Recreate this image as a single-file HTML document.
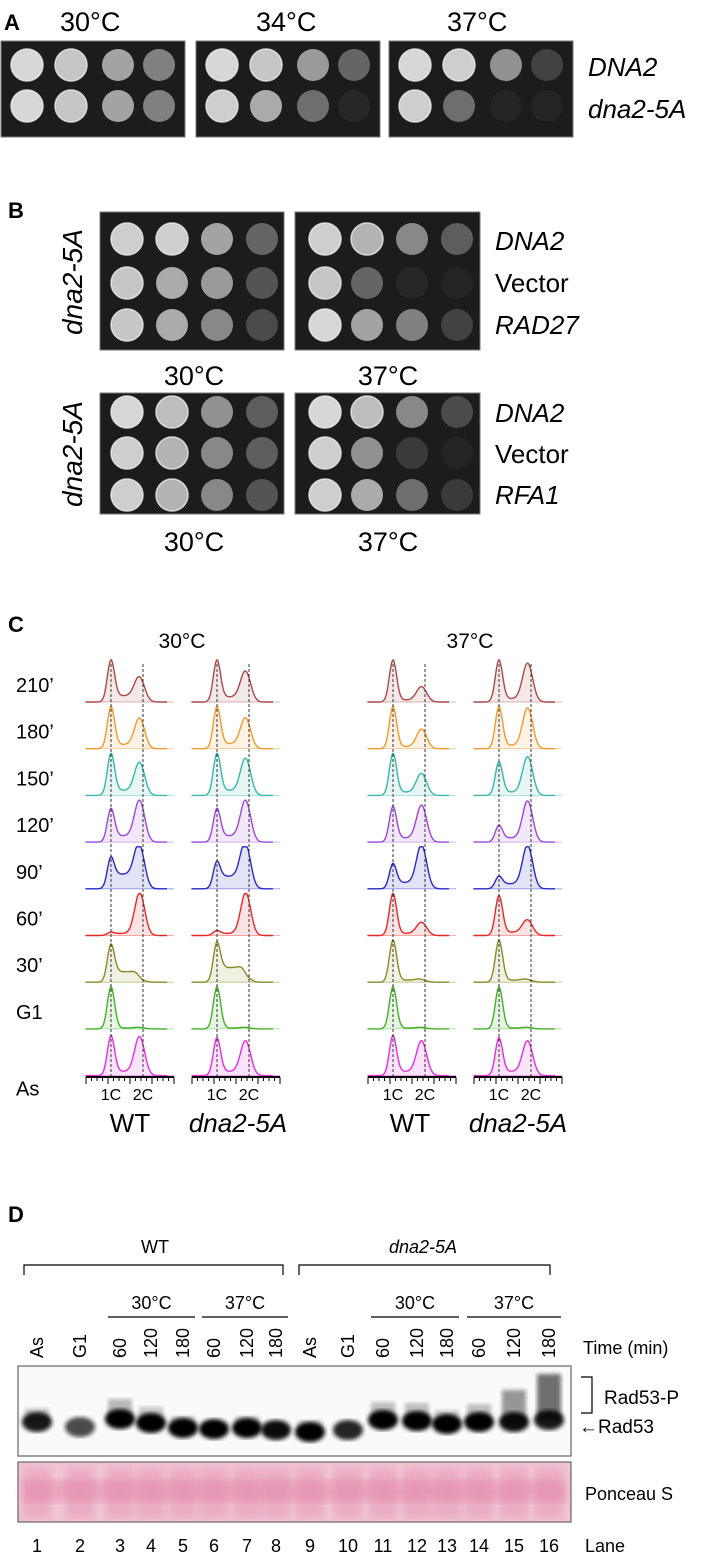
<!DOCTYPE html>
<html><head><meta charset="utf-8">
<style>
html,body{margin:0;padding:0;background:#fff;}
svg{display:block;}
text{font-family:"Liberation Sans",Arial,sans-serif;}
</style></head>
<body>
<svg id="fig" width="709" height="1553" viewBox="0 0 709 1553" xmlns="http://www.w3.org/2000/svg">
<defs>
<filter id="blur2"><feGaussianBlur stdDeviation="2.2"/></filter>
<filter id="blur4"><feGaussianBlur stdDeviation="4"/></filter>
</defs>
<!-- Panel A text -->
<text x="4" y="30" font-size="22" font-weight="bold">A</text>
<text x="60" y="31" font-size="27">30°C</text>
<text x="256" y="31" font-size="27">34°C</text>
<text x="447" y="31" font-size="27">37°C</text>
<text x="588" y="76" font-size="26" font-style="italic">DNA2</text>
<text x="588" y="118" font-size="26" font-style="italic">dna2-5A</text>
<!-- Panel B text -->
<text x="8" y="218" font-size="22" font-weight="bold">B</text>
<text transform="translate(82,282) rotate(-90)" text-anchor="middle" font-size="28" font-style="italic">dna2-5A</text>
<text transform="translate(82,454) rotate(-90)" text-anchor="middle" font-size="28" font-style="italic">dna2-5A</text>
<text x="495" y="250" font-size="26" font-style="italic">DNA2</text>
<text x="495" y="292" font-size="26">Vector</text>
<text x="495" y="334" font-size="26" font-style="italic">RAD27</text>
<text x="495" y="422" font-size="26" font-style="italic">DNA2</text>
<text x="495" y="463" font-size="26">Vector</text>
<text x="495" y="504" font-size="26" font-style="italic">RFA1</text>
<text x="194" y="385" font-size="27" text-anchor="middle">30°C</text>
<text x="388" y="385" font-size="27" text-anchor="middle">37°C</text>
<text x="194" y="551" font-size="27" text-anchor="middle">30°C</text>
<text x="388" y="551" font-size="27" text-anchor="middle">37°C</text>
<!-- Panel C text -->
<text x="8" y="632" font-size="22" font-weight="bold">C</text>
<text x="182" y="648" font-size="21" text-anchor="middle">30°C</text>
<text x="470" y="648" font-size="21" text-anchor="middle">37°C</text>
<g id="cgroup"></g>
<text x="130" y="1132" font-size="26" text-anchor="middle">WT</text>
<text x="238" y="1132" font-size="26" text-anchor="middle" font-style="italic">dna2-5A</text>
<text x="410" y="1132" font-size="26" text-anchor="middle">WT</text>
<text x="518" y="1132" font-size="26" text-anchor="middle" font-style="italic">dna2-5A</text>
<!-- Panel D text -->
<text x="8" y="1222" font-size="22" font-weight="bold">D</text>
<text x="155" y="1253" font-size="18" text-anchor="middle">WT</text>
<text x="423" y="1253" font-size="18" text-anchor="middle" font-style="italic">dna2-5A</text>
<path d="M24,1275 V1265 H283 V1275 M299,1275 V1265 H550 V1275" fill="none" stroke="#000" stroke-width="1.2"/>
<g id="dgroup"></g>
<text x="583" y="1354" font-size="18">Time (min)</text>
<path d="M581,1377 H592 V1413 H581" fill="none" stroke="#000" stroke-width="1.2"/>
<text x="604" y="1404" font-size="19">Rad53-P</text>
<text x="579" y="1433" font-size="19">←Rad53</text>
<text x="585" y="1500" font-size="18">Ponceau S</text>
<text x="585" y="1552" font-size="18">Lane</text>
</svg>
<script>
const NS='http://www.w3.org/2000/svg';
const fig=document.getElementById('fig');
function mk(tag,attrs,parent){const e=document.createElementNS(NS,tag);for(const k in attrs)e.setAttribute(k,attrs[k]);(parent||fig).appendChild(e);return e;}

// ---------- Panel A / B spot data (growth intensity 0-1) ----------
const aPlates=[[ [1,0.9,0.7,0.5],[1,0.9,0.7,0.5] ],
               [ [1,0.9,0.65,0.35],[0.95,0.75,0.4,0.05] ],
               [ [1,0.95,0.6,0.15],[0.95,0.4,0.03,0.02] ]];
const bPlates=[[ [0.95,0.95,0.7,0.35],[0.9,0.75,0.65,0.25],[0.9,0.75,0.55,0.2] ],
               [ [0.95,0.8,0.55,0.3],[0.9,0.35,0.05,0.02],[1,0.7,0.5,0.15] ],
               [ [1,0.85,0.6,0.3],[0.95,0.8,0.55,0.3],[0.95,0.8,0.55,0.25] ],
               [ [1,0.85,0.55,0.2],[0.95,0.6,0.1,0.02],[0.95,0.75,0.4,0.1] ]];
function plate(x,y,w,h,rows,rowYs,colOff,name){
  const g=mk('g',{});
  
  
  const r=mk('rect',{x:x,y:y,width:w,height:h,fill:'#1c1c1c',stroke:'#777','stroke-width':1},g);
  
  
  rows.forEach((row,ri)=>{
    row.forEach((v,ci)=>{
      const cx=x+colOff[ci], cy=rowYs[ri];
      const gray=Math.round(40+v*175);
      const c=mk('circle',{cx:cx,cy:cy,r:16,fill:'rgb('+gray+','+gray+','+gray+')',opacity:v<0.1?0.5:1},g);
      
      
      if(v>0.75){mk('circle',{cx:cx,cy:cy,r:16,fill:'none',stroke:'#eee','stroke-width':1.5,opacity:0.8},g);}
    });
  });
}
const colA=[26,70,117,158];
plate(1,41,184,96,aPlates[0],[65,106],colA,'plate-a-30');
plate(196,41,184,96,aPlates[1],[65,106],colA,'plate-a-34');
plate(389,41,184,96,aPlates[2],[65,106],colA,'plate-a-37');
const colB=[27,72,117,162];
plate(100,212,184,138,bPlates[0],[239,283,325],colB,'plate-b-rad27-30');
plate(295,212,185,138,bPlates[1],[239,283,325],[30,72,117,162],'plate-b-rad27-37');
plate(100,393,184,121,bPlates[2],[412,453,495],colB,'plate-b-rfa1-30');
plate(295,393,185,121,bPlates[3],[412,453,495],[30,72,117,162],'plate-b-rfa1-37');

// ---------- Panel C data ----------
const cRows=["210’","180’","150’","120’","90’","60’","30’","G1","As"];
const cColors=['#a84a4a','#f09a30','#38b8a8','#9a48e0','#2a2ac8','#e42828','#8a8a28','#44b028','#e030e0'];
// [G1 peak height, G2 peak height, S-phase level] per row
const wt30=[[1,0.55,0.15],[1,0.7,0.1],[1,0.75,0.12],[0.8,0.95,0.15],[0.75,0.95,0.35],[0.08,1,0.05],[0.9,0.05,0.25],[1,0.03,0.02],[0.95,0.9,0.1]];
const dna30=[[1,0.7,0.12],[1,0.7,0.12],[1,0.85,0.12],[0.8,0.95,0.15],[0.65,1,0.3],[0.12,1,0.05],[0.95,0.1,0.35],[1,0.03,0.02],[0.9,0.8,0.1]];
const wt37=[[1,0.35,0.05],[1,0.45,0.05],[1,0.5,0.08],[0.85,0.85,0.1],[0.6,1,0.15],[1,0.3,0.05],[1,0.05,0.05],[1,0.03,0.02],[0.95,0.8,0.1]];
const dna37=[[1,0.9,0.08],[1,0.95,0.08],[0.8,0.9,0.08],[0.4,0.95,0.1],[0.3,1,0.12],[0.95,0.35,0.08],[1,0.05,0.05],[1,0.03,0.02],[0.9,0.8,0.1]];
const cPanels=[{x0:86,d:wt30,n:'wt-30'},{x0:192,d:dna30,n:'dna2-5a-30'},{x0:368,d:wt37,n:'wt-37'},{x0:474,d:dna37,n:'dna2-5a-37'}];
const cg=document.getElementById('cgroup');
const baseY0=702, rowStep=46.7, colW=88, hMax=42;
function xScale(x0,dna){return x0+25+(dna-1)*32;}  // dna content 1C..2C
cRows.forEach((lab,i)=>{
  const t=mk('text',{x:16,y:baseY0+i*rowStep-(i==8?-20:10),'font-size':20},fig);
  t.textContent=lab;
  
  
});
cPanels.forEach(p=>{
  p.d.forEach((v,i)=>{
    const by=baseY0+i*rowStep;
    let pts=[];
    for(let k=0;k<=100;k++){
      const dna=0.2+k*(2.75-0.2)/100;
      const g1=v[0]*Math.exp(-Math.pow((dna-1)/0.16,2));
      const g2=v[1]*Math.exp(-Math.pow((dna-1.9)/0.22,2));
      const s=v[2]*(1/(1+Math.exp(-(dna-1.15)/0.05)))*(1/(1+Math.exp((dna-1.85)/0.06)));
      const y=by-hMax*Math.min(1,g1+g2+s);
      pts.push([xScale(p.x0,dna),y]);
    }
    const line=pts.map((q,j)=>(j?'L':'M')+q[0].toFixed(1)+','+q[1].toFixed(1)).join('');
    const area=mk('path',{d:line+'L'+pts[100][0].toFixed(1)+','+by+'L'+pts[0][0].toFixed(1)+','+by+'Z',fill:cColors[i],'fill-opacity':0.13},cg);
    
    
    const ln=mk('path',{d:line,fill:'none',stroke:cColors[i],'stroke-width':1.4},cg);
    
    
    mk('line',{x1:p.x0,x2:p.x0+colW,y1:by,y2:by,stroke:cColors[i],'stroke-width':0.8,opacity:0.5},cg);
  });
  [1,2].forEach(dna=>{
    const gx=xScale(p.x0,dna);
    const dl=mk('line',{x1:gx,x2:gx,y1:baseY0-38,y2:1077,stroke:'#333','stroke-width':1,'stroke-dasharray':'3,2'},cg);
    
    
  });
  const ax=mk('line',{x1:p.x0,x2:p.x0+colW,y1:1077,y2:1077,stroke:'#000','stroke-width':2},cg);
  
  
  for(let k=0;k<=16;k++){
    const tx=p.x0+k*colW/16;
    mk('line',{x1:tx,x2:tx,y1:1077,y2:k%4==0?1084:1081,stroke:'#000','stroke-width':1},cg);
  }
  ['1C','2C'].forEach((l,j)=>{
    const t=mk('text',{x:xScale(p.x0,j+1),y:1100,'font-size':16,'text-anchor':'middle'},cg);
    t.textContent=l;
    
    
  });
});

// ---------- Panel D data ----------
const laneLabels=['As','G1','60','120','180','60','120','180','As','G1','60','120','180','60','120','180'];
const laneNums=['1','2','3','4','5','6','7','8','9','10','11','12','13','14','15','16'];
const laneX=[37,80,120,151,183,214,247,276,310,348,383,417,447,479,514,549];
const bandY=[1422,1427,1419,1423,1428,1429,1428,1430,1432,1430,1420,1421,1424,1422,1422,1420];
const bandI=[0.9,0.7,1,1,1,1,1,0.95,1,0.85,1,1,1,1,0.95,0.9];
const smear=[0.1,0,0.25,0.15,0.05,0,0.05,0,0.05,0,0.2,0.2,0.1,0.2,0.55,0.9];
const dg=document.getElementById('dgroup');
const gel=mk('rect',{x:18,y:1366,width:553,height:90,fill:'#fafafa',stroke:'#666','stroke-width':1.2},dg);


const pon=mk('rect',{x:18,y:1462,width:553,height:60,fill:'#f0c4d2',stroke:'#666','stroke-width':1.2},dg);


mk('rect',{x:22,y:1480,width:545,height:22,fill:'#e690b0',opacity:0.6,filter:'url(#blur4)'},dg);
laneX.forEach((x,i)=>{
  const lt=mk('text',{transform:'translate('+(x+6)+',1358) rotate(-90)','font-size':18},dg);
  lt.textContent=laneLabels[i];
  
  
  const nt=mk('text',{x:x,y:1552,'font-size':18,'text-anchor':'middle'},dg);
  nt.textContent=laneNums[i];
  
  
  if(smear[i]>0){
    const sm=mk('rect',{x:x-12,y:bandY[i]-10-40*smear[i],width:24,height:40*smear[i]+10,fill:'#000',opacity:0.15+0.45*smear[i],filter:'url(#blur2)'},dg);
    
    
  }
  const b=mk('ellipse',{cx:x,cy:bandY[i],rx:15,ry:10,fill:'#000',opacity:bandI[i],filter:'url(#blur2)'},dg);
  
  
  const pb=mk('rect',{x:x-14,y:1468,width:28,height:50,fill:'#e080a8',opacity:0.35,filter:'url(#blur4)'},dg);
  
  
});
const tGroups=[[2,4,'30°C'],[5,7,'37°C'],[10,12,'30°C'],[13,15,'37°C']];
tGroups.forEach(t=>{
  const x1=laneX[t[0]]-12,x2=laneX[t[1]]+12;
  const l=mk('line',{x1:x1,x2:x2,y1:1317,y2:1317,stroke:'#000','stroke-width':1.2},dg);
  
  
  const tx=mk('text',{x:(x1+x2)/2,y:1309,'font-size':18,'text-anchor':'middle'},dg);
  tx.textContent=t[2];
  
  
});
</script>
</body></html>
